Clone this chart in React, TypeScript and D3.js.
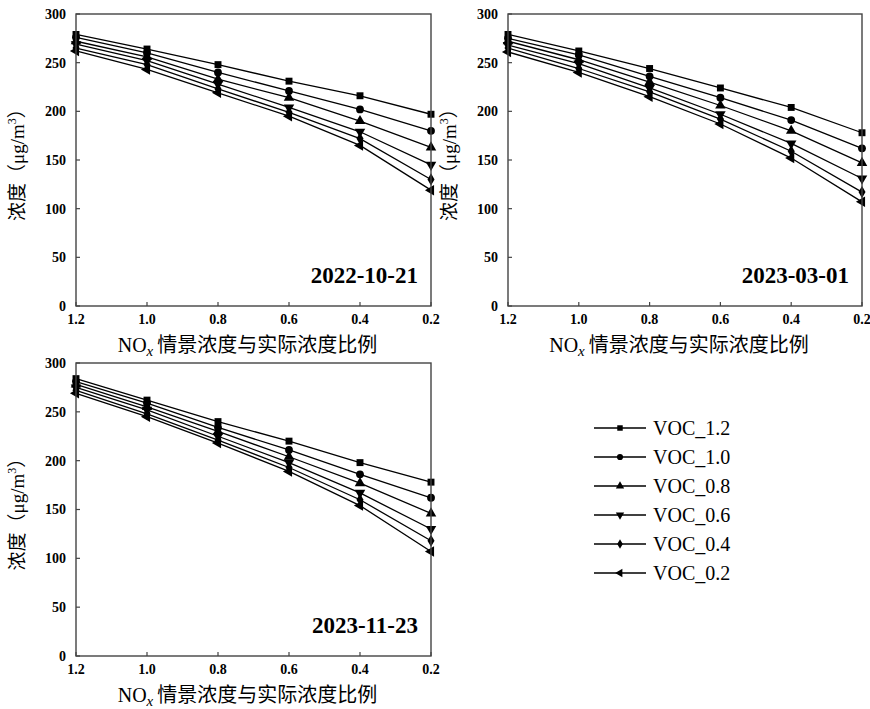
import React from "react";
import * as d3 from "d3";

const ratios = [1.2, 1.0, 0.8, 0.6, 0.4, 0.2];
const xTickLabels = ["1.2", "1.0", "0.8", "0.6", "0.4", "0.2"];
const yTicks = [0, 50, 100, 150, 200, 250, 300];
const seriesNames = ["VOC_1.2", "VOC_1.0", "VOC_0.8", "VOC_0.6", "VOC_0.4", "VOC_0.2"];
const markerKinds = ["square", "circle", "triUp", "triDown", "diamond", "triLeft"];

const panelDates = ["2022-10-21", "2023-03-01", "2023-11-23"];

const p1VOC12 = [279, 264, 248, 231, 216, 197];
const p1VOC10 = [276, 260, 240, 221, 202, 180];
const p1VOC08 = [272, 256, 233, 214, 190, 163];
const p1VOC06 = [269, 252, 228, 204, 179, 145];
const p1VOC04 = [265, 248, 223, 199, 172, 130];
const p1VOC02 = [262, 243, 219, 195, 165, 119];

const p2VOC12 = [279, 262, 244, 224, 204, 178];
const p2VOC10 = [275, 258, 236, 214, 191, 162];
const p2VOC08 = [272, 253, 230, 206, 180, 147];
const p2VOC06 = [268, 249, 224, 197, 167, 131];
const p2VOC04 = [265, 244, 220, 192, 159, 117];
const p2VOC02 = [261, 240, 215, 187, 152, 107];

const p3VOC12 = [284, 262, 240, 220, 198, 178];
const p3VOC10 = [281, 259, 234, 211, 186, 162];
const p3VOC08 = [278, 255, 230, 204, 177, 146];
const p3VOC06 = [275, 252, 225, 198, 167, 130];
const p3VOC04 = [272, 248, 221, 193, 160, 118];
const p3VOC02 = [269, 245, 218, 189, 154, 107];

const panelSeries = [
  [p1VOC12, p1VOC10, p1VOC08, p1VOC06, p1VOC04, p1VOC02],
  [p2VOC12, p2VOC10, p2VOC08, p2VOC06, p2VOC04, p2VOC02],
  [p3VOC12, p3VOC10, p3VOC08, p3VOC06, p3VOC04, p3VOC02],
];

const panelBoxes = [
  { left: 76, right: 431, top: 14, bottom: 306 },
  { left: 508, right: 862, top: 14, bottom: 306 },
  { left: 76, right: 431, top: 363, bottom: 656 },
];

const SERIF = "Liberation Serif, DejaVu Serif, Times New Roman, Times, serif";
const CJK = "Noto Sans CJK SC, sans-serif";

function markerPath(kind: string, size: number): { d: string; rot: number } {
  switch (kind) {
    case "square":
      return { d: d3.symbol(d3.symbolSquare, size)()!, rot: 0 };
    case "circle":
      return { d: d3.symbol(d3.symbolCircle, size)()!, rot: 0 };
    case "triUp":
      return { d: d3.symbol(d3.symbolTriangle, size)()!, rot: 0 };
    case "triDown":
      return { d: d3.symbol(d3.symbolTriangle, size)()!, rot: 180 };
    case "diamond":
      return { d: d3.symbol(d3.symbolDiamond, size * 0.9)()!, rot: 0 };
    default:
      return { d: d3.symbol(d3.symbolTriangle, size)()!, rot: -90 };
  }
}

function Marker({ kind, x, y, size }: { kind: string; x: number; y: number; size: number }) {
  const m = markerPath(kind, size);
  return <path d={m.d} transform={`translate(${x},${y}) rotate(${m.rot})`} fill="#000" />;
}

function Panel({ idx }: { idx: number }) {
  const b = panelBoxes[idx];
  const x = d3.scaleLinear().domain([1.2, 0.2]).range([b.left, b.right]);
  const y = d3.scaleLinear().domain([0, 300]).range([b.bottom, b.top]);
  const line = d3
    .line<number>()
    .x((_, i) => x(ratios[i]))
    .y((v) => y(v));
  const series = panelSeries[idx];
  const yMid = (b.top + b.bottom) / 2;
  const xMid = (b.left + b.right) / 2;
  return (
    <g>
      {series.map((s, si) => (
        <g key={si}>
          <path d={line(s)!} fill="none" stroke="#000" strokeWidth={1.3} />
          {s.map((v, i) => (
            <Marker key={i} kind={markerKinds[si]} x={x(ratios[i])} y={y(v)} size={48} />
          ))}
        </g>
      ))}
      <rect
        x={b.left}
        y={b.top}
        width={b.right - b.left}
        height={b.bottom - b.top}
        fill="none"
        stroke="#444"
        strokeWidth={1.4}
      />
      {yTicks.map((t) => (
        <g key={t}>
          <line x1={b.left} x2={b.left + 4} y1={y(t)} y2={y(t)} stroke="#444" strokeWidth={1.2} />
          <text
            x={b.left - 10}
            y={y(t)}
            dy="0.35em"
            textAnchor="end"
            fontFamily={SERIF}
            fontWeight="bold"
            fontSize={14}
          >
            {t}
          </text>
        </g>
      ))}
      {ratios.map((r, i) => (
        <g key={r}>
          <line x1={x(r)} x2={x(r)} y1={b.bottom} y2={b.bottom - 4} stroke="#444" strokeWidth={1.2} />
          <text
            x={x(r)}
            y={b.bottom + 18}
            textAnchor="middle"
            fontFamily={SERIF}
            fontWeight="bold"
            fontSize={14}
          >
            {xTickLabels[i]}
          </text>
        </g>
      ))}
      <text
        x={b.right - 13}
        y={b.bottom - 23}
        textAnchor="end"
        fontFamily={SERIF}
        fontWeight="bold"
        fontSize={23}
      >
        {panelDates[idx]}
      </text>
      <text
        transform={`translate(${b.left - 52},${yMid}) rotate(-90)`}
        textAnchor="middle"
        fontSize={19}
        fontFamily={CJK}
      >
        <tspan fontFamily={CJK}>浓度（</tspan>
        <tspan fontFamily={SERIF}>μg/m</tspan>
        <tspan fontFamily={SERIF} fontSize={12} dy={-8}>3</tspan>
        <tspan fontFamily={CJK} dy={8}>）</tspan>
      </text>
      <text x={xMid - 6} y={b.bottom + 46} textAnchor="middle" fontSize={20}>
        <tspan fontFamily={SERIF}>NO</tspan>
        <tspan fontFamily={SERIF} fontStyle="italic" fontSize={15} dy={4}>x</tspan>
        <tspan fontFamily={CJK} dy={-4} dx={4}>情景浓度与实际浓度比例</tspan>
      </text>
    </g>
  );
}

function Legend() {
  const x0 = 594;
  const x1 = 646;
  const y0 = 428;
  const step = 29;
  return (
    <g>
      {seriesNames.map((name, i) => {
        const yy = y0 + i * step;
        return (
          <g key={name}>
            <line x1={x0} x2={x1} y1={yy} y2={yy} stroke="#000" strokeWidth={1.3} />
            <Marker kind={markerKinds[i]} x={(x0 + x1) / 2} y={yy} size={30} />
            <text x={x1 + 7} y={yy} dy="0.35em" fontFamily={SERIF} fontSize={20}>
              {name}
            </text>
          </g>
        );
      })}
    </g>
  );
}

export default function App() {
  return (
    <svg
      width={870}
      height={709}
      style={{ position: "absolute", left: 0, top: 0, background: "#fff" }}
    >
      <rect width={870} height={709} fill="#fff" />
      {[0, 1, 2].map((i) => (
        <Panel key={i} idx={i} />
      ))}
      <Legend />
    </svg>
  );
}
